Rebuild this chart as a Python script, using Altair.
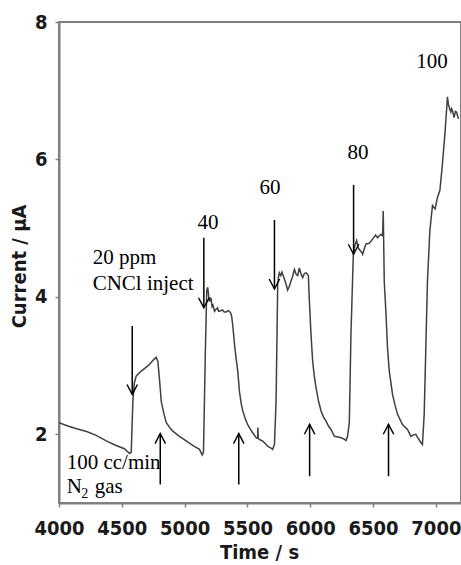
import altair as alt
import pandas as pd

# ---- data ----
time_s = [4000, 4070, 4140, 4220, 4300, 4380, 4450, 4520, 4562, 4575,
          4588, 4600, 4615, 4655, 4690, 4721, 4750, 4774, 4787, 4800,
          4814, 4835, 4854, 4880, 4904, 4950, 5015, 5070, 5118, 5140,
          5150, 5165, 5176, 5184, 5192, 5198, 5205, 5211, 5218, 5225,
          5238, 5250, 5262, 5270, 5277, 5289, 5301, 5315, 5331, 5345,
          5357, 5368, 5375, 5385, 5397, 5410, 5423, 5436, 5450, 5463,
          5480, 5502, 5535, 5569, 5581, 5583, 5586, 5600, 5622, 5640,
          5659, 5675, 5688, 5700, 5715, 5728, 5741, 5748, 5754, 5765,
          5775, 5794, 5808, 5820, 5833, 5847, 5860, 5874, 5887, 5900,
          5913, 5927, 5940, 5953, 5967, 5985, 5993, 6006, 6019, 6032,
          6046, 6066, 6086, 6106, 6126, 6145, 6165, 6192, 6220, 6245,
          6270, 6285, 6297, 6311, 6324, 6343, 6355, 6369, 6380, 6390,
          6405, 6417, 6430, 6444, 6470, 6496, 6508, 6520, 6536, 6550,
          6563, 6576, 6581, 6589, 6603, 6615, 6629, 6655, 6675, 6695,
          6734, 6774, 6801, 6820, 6841, 6855, 6867, 6880, 6893, 6907,
          6920, 6933, 6952, 6973, 6985, 6994, 7013, 7032, 7052, 7074,
          7092, 7100, 7106, 7119, 7125, 7132, 7145, 7155, 7164, 7180]
current_uA = [2.17, 2.12, 2.08, 2.04, 1.98, 1.90, 1.84, 1.79, 1.72, 1.74,
              2.48, 2.75, 2.85, 2.92, 2.97, 3.02, 3.08, 3.12, 3.06, 2.80,
              2.48, 2.30, 2.17, 2.10, 2.05, 1.98, 1.90, 1.83, 1.78, 1.70,
              1.74, 3.20, 4.09, 4.14, 4.00, 3.93, 3.98, 3.97, 3.86, 3.88,
              3.79, 3.82, 3.84, 3.79, 3.79, 3.80, 3.81, 3.78, 3.78, 3.80,
              3.79, 3.76, 3.71, 3.55, 3.31, 3.10, 2.92, 2.63, 2.45, 2.34,
              2.24, 2.14, 2.04, 1.95, 1.94, 2.10, 1.94, 1.92, 1.90, 1.87,
              1.83, 1.81, 1.80, 1.78, 1.85, 2.48, 4.19, 4.30, 4.35, 4.31,
              4.36, 4.26, 4.18, 4.10, 4.15, 4.23, 4.30, 4.40, 4.33, 4.31,
              4.42, 4.33, 4.28, 4.34, 4.35, 4.31, 3.94, 3.45, 3.07, 2.85,
              2.68, 2.48, 2.34, 2.25, 2.19, 2.12, 2.07, 1.97, 1.96, 1.95,
              1.93, 1.91, 1.97, 2.17, 3.46, 4.62, 4.75, 4.82, 4.72, 4.69,
              4.66, 4.62, 4.70, 4.77, 4.78, 4.84, 4.87, 4.90, 4.86, 4.89,
              4.91, 4.89, 5.25, 4.23, 3.75, 3.26, 2.92, 2.58, 2.42, 2.29,
              2.14, 2.07, 1.97, 1.99, 2.00, 1.95, 1.92, 1.88, 1.85, 2.29,
              3.26, 4.23, 4.96, 5.33, 5.30, 5.28, 5.45, 5.55, 5.93, 6.42,
              6.91, 6.80, 6.76, 6.69, 6.74, 6.71, 6.61, 6.70, 6.69, 6.59]

inject_t = [4583, 5153, 5715, 6345]
inject_top = [3.575, 4.86, 5.12, 5.63]
inject_tip = [2.58, 3.84, 4.115, 4.62]

stop_t = [4806, 5431, 5995, 6623]
stop_bottom = [1.27, 1.27, 1.39, 1.39]
stop_tip = [2.01, 2.01, 2.145, 2.145]

note_text = ["20 ppm", "CNCl inject", "40", "60", "80", "100", "100 cc/min", "N", "gas"]
note_t = [4268, 4268, 5103, 5597, 6297, 6843, 4061, 4061, 4284]
note_v = [4.48, 4.10, 4.99, 5.50, 6.01, 7.325, 1.50, 1.144, 1.144]

sub_text = ["2"]
sub_t = [4178]
sub_v = [1.071]

x_ticks = [4000, 4500, 5000, 5500, 6000, 6500, 7000]
y_ticks = [2, 4, 6, 8]

# ---- tables ----
curve = pd.DataFrame({"t": time_s, "v": current_uA})
inj = pd.DataFrame({"t": inject_t, "v": inject_top, "v2": inject_tip})
inj_head = pd.DataFrame({"t": inject_t, "v": inject_tip})
stp = pd.DataFrame({"t": stop_t, "v": stop_bottom, "v2": stop_tip})
stp_head = pd.DataFrame({"t": stop_t, "v": stop_tip})
notes = pd.DataFrame({"t": note_t, "v": note_v, "label": note_text})
subs = pd.DataFrame({"t": sub_t, "v": sub_v, "label": sub_text})

SANS = "Liberation Sans Narrow, DejaVu Sans Condensed, Liberation Sans, sans-serif"
SERIF = "Liberation Serif, Times New Roman, serif"
GREY = "#808080"
INK = "#1a1a1a"

xscale = alt.Scale(domain=[4000, 7200], nice=False, zero=False)
yscale = alt.Scale(domain=[1, 8], nice=False, zero=False)

xaxis = alt.Axis(values=x_ticks, format="d", grid=False, labelFlush=False,
                 labelOverlap=False, labelFont=SANS, labelFontSize=20,
                 labelFontWeight="bold", labelColor=INK, labelPadding=11,
                 tickSize=4, tickColor=GREY, tickWidth=1.5,
                 domainColor=GREY, domainWidth=2,
                 titleFont=SANS, titleFontSize=20, titleFontWeight="bold",
                 titleColor=INK, titleX=200, titleY=55,
                 titleBaseline="alphabetic", titleAlign="center")
yaxis = alt.Axis(values=y_ticks, format="d", grid=False,
                 labelFont=SANS, labelFontSize=20, labelFontWeight="bold",
                 labelColor=INK, labelPadding=8,
                 tickSize=4, tickColor=GREY, tickWidth=1.5,
                 domainColor=GREY, domainWidth=2,
                 titleFont=SANS, titleFontSize=20, titleFontWeight="bold",
                 titleColor=INK, titleAngle=270, titleX=-34, titleY=244,
                 titleBaseline="alphabetic", titleAlign="center")

X = alt.X("t:Q", scale=xscale, axis=xaxis, title="Time / s")
Y = alt.Y("v:Q", scale=yscale, axis=yaxis, title="Current / µA")

line = alt.Chart(curve).mark_line(color="#404040", strokeWidth=1.5, clip=True).encode(x=X, y=Y)

inj_rule = alt.Chart(inj).mark_rule(color="black", strokeWidth=1.5).encode(x=X, y=Y, y2="v2:Q")
inj_arrow = alt.Chart(inj_head).mark_point(
    shape="M-1,-1.9L0,0L1,-1.9", filled=False, size=110,
    color="black", strokeWidth=1.4, opacity=1).encode(x=X, y=Y)

stp_rule = alt.Chart(stp).mark_rule(color="black", strokeWidth=1.5).encode(x=X, y=Y, y2="v2:Q")
stp_arrow = alt.Chart(stp_head).mark_point(
    shape="M-1,1.9L0,0L1,1.9", filled=False, size=110,
    color="black", strokeWidth=1.4, opacity=1).encode(x=X, y=Y)

text = alt.Chart(notes).mark_text(font=SERIF, fontSize=21, color="black",
                                  align="left", baseline="alphabetic").encode(x=X, y=Y, text="label:N")
subtext = alt.Chart(subs).mark_text(font=SERIF, fontSize=14, color="black",
                                    align="left", baseline="alphabetic").encode(x=X, y=Y, text="label:N")

chart = alt.layer(line, inj_rule, inj_arrow, stp_rule, stp_arrow, text, subtext).properties(
    width=402, height=481,
    autosize=alt.AutoSizeParams(type="none"),
    padding={"left": 59, "top": 22, "right": 0, "bottom": 62},
    background="white",
).configure_view(stroke=GREY, strokeWidth=2)

chart.save("out.html", embed_options={"renderer": "svg", "actions": False})
